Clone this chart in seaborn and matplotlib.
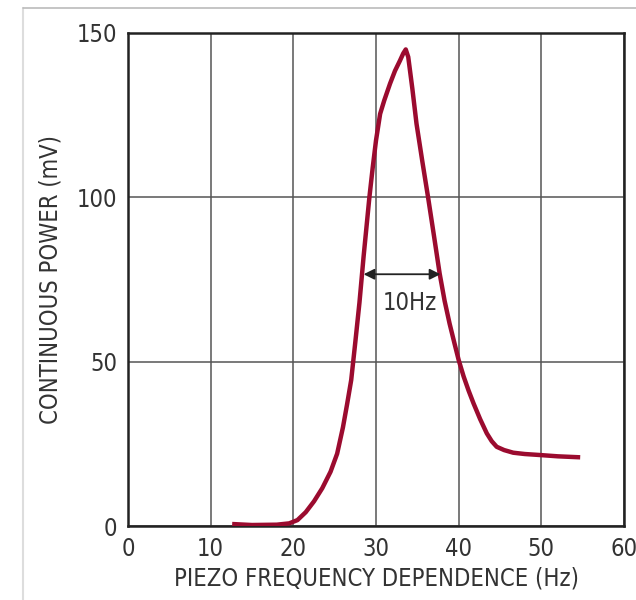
import matplotlib
matplotlib.use("Agg")
import matplotlib.pyplot as plt
from matplotlib.lines import Line2D
import seaborn as sns
import pandas as pd

# dati
freq_hz = [12.6, 15.0, 18.0, 19.5, 20.5, 21.5, 22.5, 23.5, 24.5, 25.3, 26.0,
           26.5, 27.0, 27.5, 28.0, 28.5, 29.2, 29.6, 30.0, 30.5, 31.0, 31.7,
           32.3, 32.9, 33.3, 33.6, 33.9, 34.4, 34.9, 35.6, 36.3, 37.0, 37.7,
           38.3, 38.9, 39.5, 40.0, 40.6, 41.2, 41.8, 42.6, 43.4, 44.0, 44.6,
           45.5, 46.6, 48.0, 49.8, 52.0, 54.7]
power_mv = [0.6, 0.3, 0.4, 0.8, 1.8, 4.2, 7.5, 11.5, 16.5, 22.0, 30.0,
            37.0, 44.4, 56.0, 68.0, 82.0, 100.0, 109.0, 117.3, 125.4, 129.5, 134.6,
            138.5, 141.6, 143.8, 145.0, 142.7, 133.0, 122.4, 111.0, 100.0, 88.5, 76.8,
            68.5, 61.6, 55.5, 50.5, 45.5, 41.2, 37.3, 32.5, 28.2, 25.8, 24.1,
            23.1, 22.3, 21.9, 21.6, 21.2, 20.9]

x_ticks = [0, 10, 20, 30, 40, 50, 60]
y_ticks = [0, 50, 100, 150]
arrow_x = [28.5, 37.8]
arrow_y = 76.6
arrow_label = "10Hz"
label_x = 34.1

df = pd.DataFrame({"freq": freq_hz, "power": power_mv})

sns.set_theme(style="white")
plt.rcParams['font.family'] = ['DejaVu Sans']
plt.rcParams['font.stretch'] = 'condensed'

fig = plt.figure(figsize=(6.36, 6.0), dpi=100)
ax = fig.add_axes([128 / 636, 1 - 526 / 600, 496 / 636, 493 / 600])

sns.lineplot(data=df, x="freq", y="power", ax=ax, color="#9b0b2f",
             linewidth=3.2, solid_capstyle="butt", solid_joinstyle="round", zorder=3)

ax.set_xlim(0, 60)
ax.set_ylim(0, 150)
ax.set_xticks(x_ticks)
ax.set_yticks(y_ticks)
ax.grid(True, color="#555555", linewidth=1.1)
ax.tick_params(length=0, labelsize=17, labelcolor="#333333", pad=8)
for s in ax.spines.values():
    s.set_color("#222222")
    s.set_linewidth(1.8)

ax.set_xlabel("PIEZO FREQUENCY DEPENDENCE (Hz)", fontsize=17, color="#333333", labelpad=4)
ax.set_ylabel("CONTINUOUS POWER (mV)", fontsize=17, color="#333333", labelpad=10)

# freccia 10Hz
ax.annotate("", xy=(arrow_x[0], arrow_y), xytext=(arrow_x[1], arrow_y),
            arrowprops=dict(arrowstyle="<|-|>", color="#222222", lw=1.3,
                            mutation_scale=16, shrinkA=0, shrinkB=0), zorder=4)
ax.text(label_x, arrow_y - 5, arrow_label, ha="center", va="top",
        fontsize=17, color="#333333")

# bordo grigio chiaro della figura
fig.add_artist(Line2D([23 / 636, 23 / 636], [0, 1 - 8 / 600], color="#dddddd", lw=1.5))
fig.add_artist(Line2D([23 / 636, 1], [1 - 8 / 600, 1 - 8 / 600], color="#bbbbbb", lw=1.2))

fig.savefig("out.png", dpi=100)
